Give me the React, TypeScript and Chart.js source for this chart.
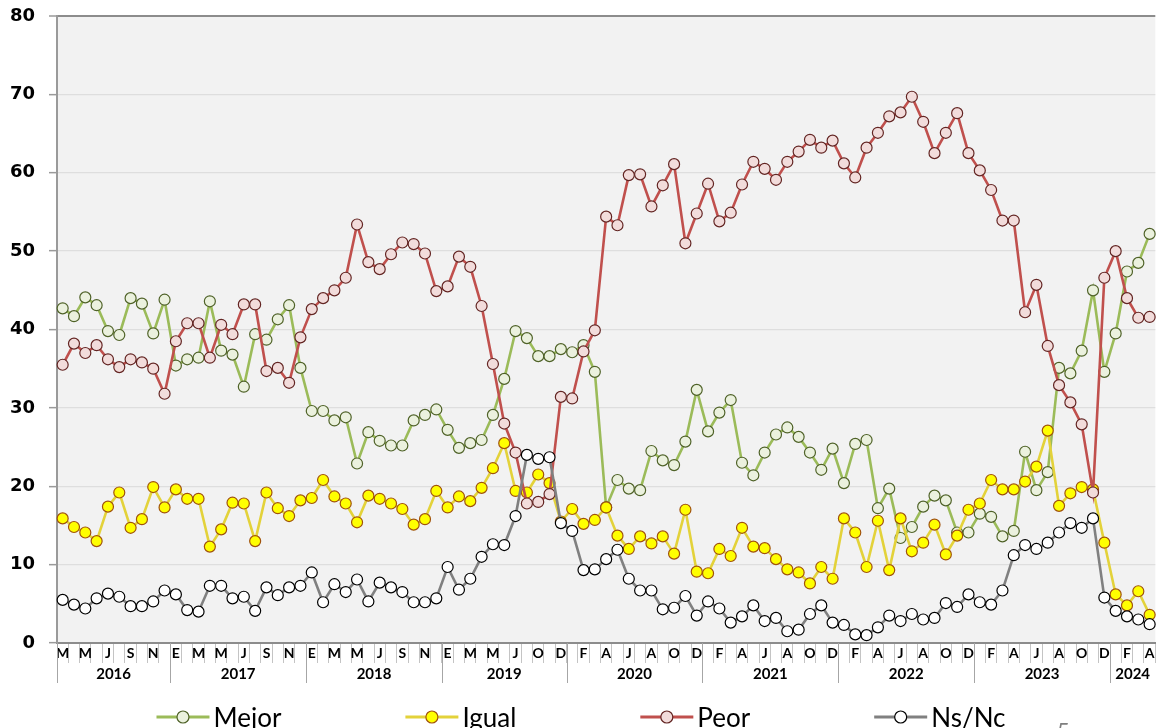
import { useEffect, useRef } from 'react';
import { Chart, registerables } from 'chart.js';

Chart.register(...registerables);

// ---- Data ----
const YEARS = ['2016', '2017', '2018', '2019', '2020', '2021', '2022', '2023', '2024'];
const FULL_YEAR = ['E', 'F', 'M', 'A', 'M', 'J', 'J', 'A', 'S', 'O', 'N', 'D'];
const MONTHS_BY_YEAR: string[][] = [
  ['M', 'A', 'M', 'J', 'J', 'A', 'S', 'O', 'N', 'D'],
  FULL_YEAR,
  FULL_YEAR,
  ['E', 'F', 'M', 'A', 'M', 'J', 'J', 'S', 'O', 'N', 'D'],
  FULL_YEAR,
  FULL_YEAR,
  FULL_YEAR,
  FULL_YEAR,
  ['E', 'F', 'M', 'A'],
];
const MONTH_LABELS: string[] = MONTHS_BY_YEAR.flat();

const MEJOR = [
  42.7, 41.7, 44.1, 43.1, 39.8, 39.3, 44.0, 43.3, 39.5, 43.8,
  35.4, 36.2, 36.4, 43.6, 37.3, 36.8, 32.7, 39.4, 38.7, 41.3, 43.1, 35.1,
  29.6, 29.6, 28.4, 28.8, 22.9, 26.9, 25.8, 25.2, 25.2, 28.4, 29.1, 29.8,
  27.2, 24.9, 25.5, 25.9, 29.1, 33.7, 39.8, 38.9, 36.6, 36.6, 37.5,
  37.1, 38.0, 34.6, 17.3, 20.8, 19.7, 19.5, 24.5, 23.3, 22.7, 25.7, 32.3,
  27.0, 29.4, 31.0, 23.0, 21.4, 24.3, 26.6, 27.5, 26.3, 24.3, 22.1, 24.8,
  20.4, 25.4, 25.9, 17.2, 19.7, 13.4, 14.8, 17.4, 18.8, 18.2, 14.1, 14.1,
  16.5, 16.1, 13.6, 14.3, 24.4, 19.5, 21.8, 35.1, 34.4, 37.3, 45.0, 34.6,
  39.5, 47.4, 48.5, 52.2,
];
const IGUAL = [
  15.9, 14.8, 14.1, 13.0, 17.4, 19.2, 14.7, 15.8, 19.9, 17.3,
  19.6, 18.4, 18.4, 12.3, 14.5, 17.9, 17.8, 13.0, 19.2, 17.2, 16.2, 18.2,
  18.5, 20.8, 18.7, 17.8, 15.4, 18.8, 18.4, 17.8, 17.1, 15.1, 15.8, 19.4,
  17.3, 18.7, 18.1, 19.8, 22.3, 25.5, 19.4, 19.2, 21.5, 20.4, 15.5,
  17.1, 15.2, 15.7, 17.3, 13.7, 12.0, 13.6, 12.7, 13.6, 11.4, 17.0, 9.1,
  8.9, 12.0, 11.1, 14.7, 12.3, 12.1, 10.7, 9.4, 9.0, 7.6, 9.7, 8.2,
  15.9, 14.1, 9.7, 15.6, 9.3, 15.9, 11.7, 12.8, 15.1, 11.3, 13.7, 17.0,
  17.8, 20.8, 19.6, 19.6, 20.6, 22.5, 27.1, 17.5, 19.1, 19.9, 19.6, 12.8,
  6.2, 4.8, 6.6, 3.6,
];
const PEOR = [
  35.5, 38.2, 37.0, 38.0, 36.2, 35.2, 36.2, 35.8, 35.0, 31.8,
  38.5, 40.8, 40.8, 36.4, 40.6, 39.4, 43.2, 43.2, 34.7, 35.1, 33.2, 39.0,
  42.6, 44.0, 45.0, 46.6, 53.4, 48.6, 47.7, 49.6, 51.1, 50.9, 49.7, 44.9,
  45.5, 49.3, 48.0, 43.0, 35.6, 28.0, 24.3, 17.8, 18.0, 19.0, 31.4,
  31.2, 37.2, 39.9, 54.4, 53.3, 59.7, 59.8, 55.7, 58.4, 61.1, 51.0, 54.8,
  58.6, 53.8, 54.9, 58.5, 61.4, 60.5, 59.1, 61.4, 62.7, 64.2, 63.2, 64.1,
  61.2, 59.4, 63.2, 65.1, 67.2, 67.7, 69.7, 66.5, 62.5, 65.1, 67.6, 62.5,
  60.3, 57.8, 53.9, 53.9, 42.2, 45.7, 37.9, 32.9, 30.7, 27.9, 19.2, 46.6,
  50.0, 44.0, 41.5, 41.6,
];
const NSNC = [
  5.5, 4.9, 4.4, 5.7, 6.3, 5.9, 4.7, 4.7, 5.3, 6.7,
  6.2, 4.2, 4.0, 7.3, 7.3, 5.7, 5.9, 4.1, 7.1, 6.1, 7.1, 7.3,
  9.0, 5.2, 7.5, 6.5, 8.1, 5.3, 7.7, 7.1, 6.5, 5.2, 5.2, 5.7,
  9.7, 6.8, 8.2, 11.0, 12.6, 12.5, 16.2, 24.0, 23.5, 23.7, 15.3,
  14.3, 9.3, 9.4, 10.7, 11.9, 8.2, 6.7, 6.7, 4.3, 4.5, 6.0, 3.5,
  5.3, 4.4, 2.6, 3.4, 4.8, 2.8, 3.2, 1.5, 1.7, 3.7, 4.8, 2.6,
  2.3, 1.1, 1.0, 2.0, 3.5, 2.8, 3.7, 3.0, 3.2, 5.1, 4.6, 6.2,
  5.2, 4.9, 6.7, 11.2, 12.5, 12.0, 12.8, 14.1, 15.3, 14.7, 15.9, 5.8,
  4.1, 3.4, 3.0, 2.4,
];

const SERIES_NAMES = ['Mejor', 'Igual', 'Peor', 'Ns/Nc'];
const SERIES_DATA = [MEJOR, IGUAL, PEOR, NSNC];
const LINE_COLORS = ['#9bbb59', '#e3d23a', '#c0504d', '#808080'];
const FILL_COLORS = ['#ebf1de', '#ffff00', '#f2dcdb', '#ffffff'];
const EDGE_COLORS = ['#4f6228', '#a0520c', '#632523', '#000000'];

const plotBackground = {
  id: 'plotBackground',
  beforeDraw(chart: any) {
    const { ctx, chartArea: a } = chart;
    ctx.save();
    ctx.fillStyle = '#f2f2f2';
    ctx.fillRect(a.left, a.top, a.right - a.left, a.bottom - a.top);
    ctx.restore();
  },
};

const yearAxis = {
  id: 'yearAxis',
  afterDraw(chart: any) {
    const { ctx, chartArea: a } = chart;
    const xs = chart.scales.x;
    const cw = (xs.right - xs.left) / MONTH_LABELS.length;
    ctx.save();
    ctx.strokeStyle = '#a6a6a6';
    ctx.lineWidth = 1;
    ctx.fillStyle = '#000';
    ctx.font = 'bold 15px Lato';
    ctx.textAlign = 'center';
    ctx.textBaseline = 'middle';
    let start = 0;
    MONTHS_BY_YEAR.forEach((months, yi) => {
      const end = start + months.length - 1;
      const left = xs.getPixelForValue(start) - cw / 2;
      const bx = Math.round(left) + 0.5;
      ctx.beginPath();
      ctx.moveTo(bx, a.bottom);
      ctx.lineTo(bx, a.bottom + 40);
      ctx.stroke();
      const cx = (xs.getPixelForValue(start) + xs.getPixelForValue(end)) / 2;
      ctx.fillText(YEARS[yi], cx, a.bottom + 31);
      start = end + 1;
    });
    ctx.restore();
  },
};

const bottomLegend = {
  id: 'bottomLegend',
  afterDraw(chart: any) {
    const { ctx, chartArea: a } = chart;
    const markerW = 53;
    const gap = 4;
    const spacing = 124;
    ctx.save();
    ctx.font = '26px Lato';
    const widths = SERIES_NAMES.map((n) => markerW + gap + ctx.measureText(n).width);
    const total = widths.reduce((s, w) => s + w, 0) + spacing * (SERIES_NAMES.length - 1);
    let x = chart.width / 2 - total / 2;
    const yMid = a.bottom + 74;
    const yBase = a.bottom + 84;
    SERIES_NAMES.forEach((name, i) => {
      ctx.strokeStyle = LINE_COLORS[i];
      ctx.lineWidth = 3;
      ctx.beginPath();
      ctx.moveTo(x, yMid);
      ctx.lineTo(x + markerW, yMid);
      ctx.stroke();
      ctx.beginPath();
      ctx.arc(x + markerW / 2, yMid, 6, 0, Math.PI * 2);
      ctx.fillStyle = FILL_COLORS[i];
      ctx.fill();
      ctx.lineWidth = 1.2;
      ctx.strokeStyle = EDGE_COLORS[i];
      ctx.stroke();
      ctx.fillStyle = '#000';
      ctx.textAlign = 'left';
      ctx.textBaseline = 'alphabetic';
      ctx.fillText(name, x + markerW + gap, yBase);
      x += widths[i] + spacing;
    });
    ctx.restore();
  },
};

export default function App() {
  const ref = useRef<HTMLCanvasElement | null>(null);

  useEffect(() => {
    if (!ref.current) return;
    const chart = new Chart(ref.current, {
      type: 'line',
      data: {
        labels: MONTH_LABELS,
        datasets: SERIES_NAMES.map((name, i) => ({
          label: name,
          data: SERIES_DATA[i],
          borderColor: LINE_COLORS[i],
          backgroundColor: FILL_COLORS[i],
          pointBackgroundColor: FILL_COLORS[i],
          pointBorderColor: EDGE_COLORS[i],
          pointBorderWidth: 1.2,
          pointRadius: 5.5,
          pointHoverRadius: 5.5,
          borderWidth: 2.6,
          tension: 0,
          fill: false,
          order: 4 - i,
        })),
      },
      options: {
        responsive: false,
        animation: false,
        events: [],
        layout: { padding: { top: 16, right: 0, bottom: 77, left: 0 } },
        plugins: {
          legend: { display: false },
          title: { display: false },
          tooltip: { enabled: false },
        },
        scales: {
          x: {
            type: 'category',
            offset: true,
            grid: {
              offset: true,
              drawOnChartArea: false,
              drawTicks: true,
              tickLength: 20,
              tickColor: '#c4c4c4',
              tickWidth: 1,
              color: '#c4c4c4',
            },
            border: { display: true, color: '#8c8c8c', width: 2 },
            ticks: {
              autoSkip: false,
              maxRotation: 0,
              minRotation: 0,
              padding: -18,
              color: '#000',
              font: { family: 'Lato', size: 14, weight: 'bold' },
              callback: (_v: any, i: number) => (i % 2 === 0 ? MONTH_LABELS[i] : ''),
            },
            afterFit: (s: any) => {
              s.height = 40;
            },
          },
          y: {
            min: 0,
            max: 80,
            ticks: {
              stepSize: 10,
              padding: 14,
              color: '#000',
              font: { family: 'DejaVu Sans', size: 18, weight: 'bold' },
            },
            grid: {
              color: (c: any) => (c.tick && c.tick.value === 80 ? '#8c8c8c' : '#dedede'),
              lineWidth: (c: any) => (c.tick && c.tick.value === 80 ? 2 : 1.3),
              tickLength: 8,
              tickColor: '#9a9a9a',
              tickWidth: 1.5,
            },
            border: { color: '#9a9a9a', width: 2 },
            afterFit: (s: any) => {
              s.width = 57;
              s.paddingTop = 10;
              s.paddingBottom = 10;
            },
          },
        },
      },
      plugins: [plotBackground, yearAxis, bottomLegend],
    });
    return () => chart.destroy();
  }, []);

  return (
    <div
      style={{
        position: 'fixed',
        left: 0,
        top: 0,
        width: 1162,
        height: 728,
        overflow: 'hidden',
        background: '#ffffff',
      }}
    >
      <canvas ref={ref} width={1162} height={760} style={{ display: 'block' }} />
      <span
        style={{
          position: 'absolute',
          left: 1057,
          top: 719,
          fontFamily: 'Lato',
          fontSize: 22,
          lineHeight: '22px',
          color: '#7f7f7f',
        }}
      >
        5
      </span>
    </div>
  );
}
